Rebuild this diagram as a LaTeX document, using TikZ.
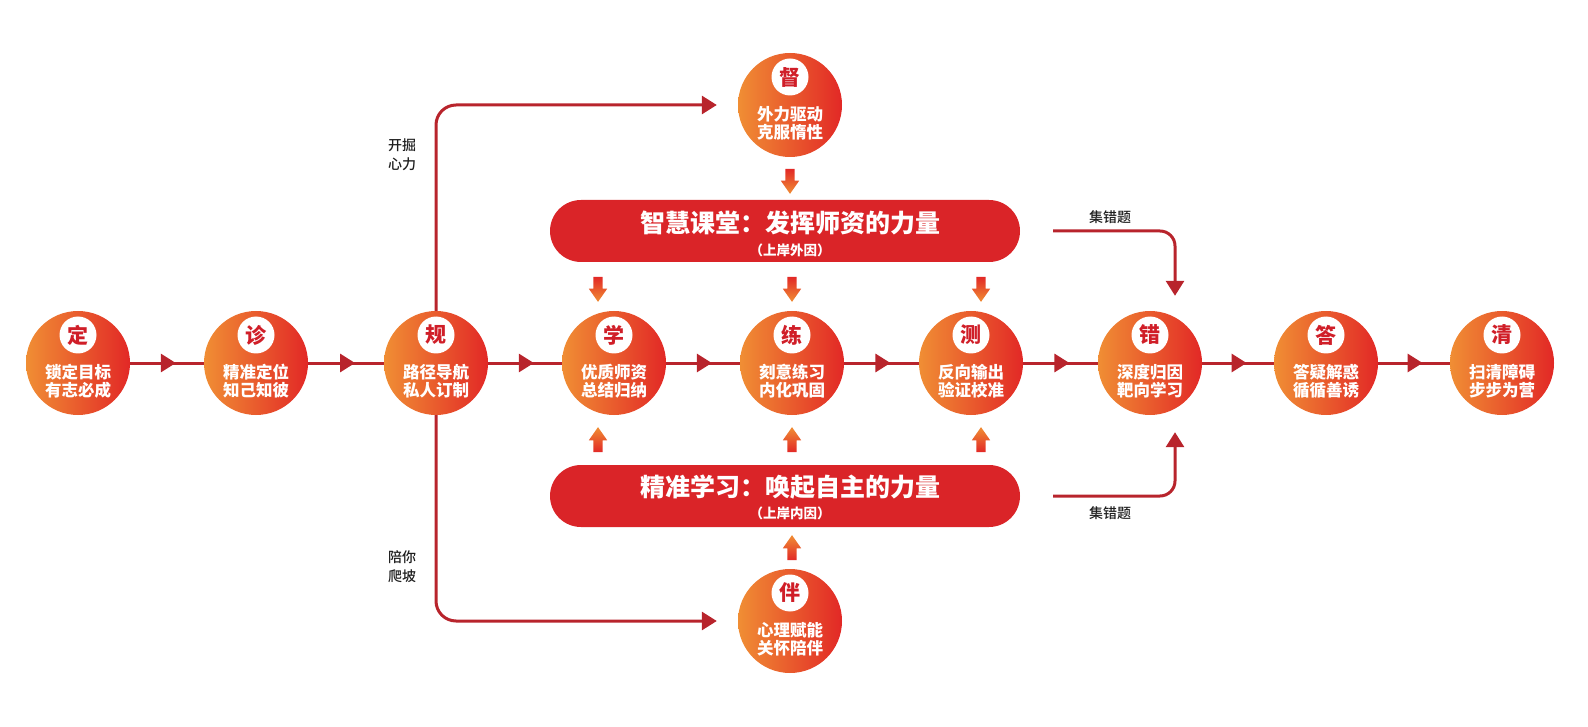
\documentclass[tikz,border=0pt]{standalone}
\usepackage{fontspec}
\newfontfamily\cjk{Noto Sans CJK SC}[BoldFont={Noto Sans CJK SC Black}]
\newfontfamily\cjkmed{Noto Sans CJK SC Medium}
\usetikzlibrary{arrows.meta,decorations.markings,shapes.arrows}
\definecolor{corange}{RGB}{240,142,52}
\definecolor{cred}{RGB}{226,40,38}
\definecolor{bannerred}{RGB}{218,36,40}
\definecolor{linered}{RGB}{184,36,44}
\definecolor{badgered}{RGB}{208,30,40}
\definecolor{txtgray}{RGB}{30,30,30}
\tikzset{
 stagecirc/.style={circle, minimum size=104pt, inner sep=0pt, left color=corange, right color=cred, draw=none},
 badge/.style={circle, fill=white, minimum size=37pt, inner sep=0pt, text=badgered, font=\cjk\bfseries\fontsize{21}{21}\selectfont},
 stagetxt/.style={align=center, text=white, font=\cjk\bfseries\fontsize{16.5}{18}\selectfont, inner sep=0pt},
 banner/.style={rounded corners=31pt, fill=bannerred, minimum width=470pt, minimum height=62pt, inner sep=0pt},
 bantitle/.style={text=white, font=\cjk\bfseries\fontsize{25}{25}\selectfont, inner sep=0pt},
 bansub/.style={text=white, font=\cjk\bfseries\fontsize{13.5}{14}\selectfont, inner sep=0pt},
 conn/.style={draw=linered, line width=3pt},
 midarrow/.style={conn, decoration={markings, mark=at position 0.62 with {\arrow[linered]{Triangle[length=15pt,width=18pt]}}}, postaction={decorate}},
 endarrow/.style={conn, -{Triangle[length=15pt,width=18pt]}, rounded corners=20pt},
 blockbase/.style={single arrow, minimum height=25pt, minimum width=18pt, inner sep=4.5pt, single arrow head extend=4.5pt, single arrow tip angle=70, draw=none},
 blockdown/.style={blockbase, shape border rotate=270, top color=cred, bottom color=corange},
 blockup/.style={blockbase, shape border rotate=90, top color=corange, bottom color=cred},
 lbl/.style={align=center, text=txtgray, font=\cjkmed\fontsize{14}{19}\selectfont, inner sep=0pt},
}
\newcommand\mkstage[6]{%
 \node[stagecirc] (#1) at (#2,#3) {};
 \node[badge] (#1-b) at ([yshift=28pt]#1.center) {#4};
 \node[stagetxt] (#1-t) at ([yshift=-18pt]#1.center) {#5\\#6};
}
\begin{document}
\begin{tikzpicture}[x=1pt,y=-1pt]
\useasboundingbox (0,0) rectangle (1588,727);
\mkstage{ding}{78}{363}{定}{锁定目标}{有志必成}
\mkstage{zhen}{256}{363}{诊}{精准定位}{知己知彼}
\mkstage{gui}{436}{363}{规}{路径导航}{私人订制}
\mkstage{xue}{614}{363}{学}{优质师资}{总结归纳}
\mkstage{lian}{792}{363}{练}{刻意练习}{内化巩固}
\mkstage{ce}{971}{363}{测}{反向输出}{验证校准}
\mkstage{cuo}{1150}{363}{错}{深度归因}{靶向学习}
\mkstage{da}{1326}{363}{答}{答疑解惑}{循循善诱}
\mkstage{qing}{1502}{363}{清}{扫清障碍}{步步为营}
\mkstage{du}{790}{105}{督}{外力驱动}{克服惰性}
\mkstage{ban}{790}{621}{伴}{心理赋能}{关怀陪伴}

\node[banner] (zh) at (785,231) {};
\node[bantitle] (zh-t) at ([xshift=5pt,yshift=8pt]zh.center) {智慧课堂：发挥师资的力量};
\node[bansub] (zh-s) at ([xshift=5pt,yshift=-19pt]zh.center) {（上岸外因）};
\node[banner] (jz) at (785,496) {};
\node[bantitle] (jz-t) at ([xshift=5pt,yshift=9pt]jz.center) {精准学习：唤起自主的力量};
\node[bansub] (jz-s) at ([xshift=5pt,yshift=-17pt]jz.center) {（上岸内因）};

\node[blockdown] (a1) at (790,178) {};
\node[blockdown] (a2) at (598,286) {};
\node[blockdown] (a3) at (792,286) {};
\node[blockdown] (a4) at (981,286) {};
\node[blockup] (a5) at (598,443) {};
\node[blockup] (a6) at (792,443) {};
\node[blockup] (a7) at (981,443) {};
\node[blockup] (a8) at (792,551) {};

\draw[midarrow] (ding) -- (zhen);
\draw[midarrow] (zhen) -- (gui);
\draw[midarrow] (gui) -- (xue);
\draw[midarrow] (xue) -- (lian);
\draw[midarrow] (lian) -- (ce);
\draw[midarrow] (ce) -- (cuo);
\draw[midarrow] (cuo) -- (da);
\draw[midarrow] (da) -- (qing);

\draw[endarrow] (gui.north) |- ([xshift=-21pt]du.west);
\draw[endarrow] (gui.south) |- ([xshift=-21pt]ban.west);
\draw[endarrow, rounded corners=15pt] ([xshift=33pt]zh.east) -| ([xshift=25pt,yshift=15pt]cuo.north);
\draw[endarrow, rounded corners=15pt] ([xshift=33pt]jz.east) -| ([xshift=25pt,yshift=-17pt]cuo.south);

\node[lbl] (l1) at (402,155) {开掘\\心力};
\node[lbl] (l2) at (402,567) {陪你\\爬坡};
\node[lbl] (l3) at (1110,217) {集错题};
\node[lbl] (l4) at (1110,513) {集错题};
\end{tikzpicture}
\end{document}
